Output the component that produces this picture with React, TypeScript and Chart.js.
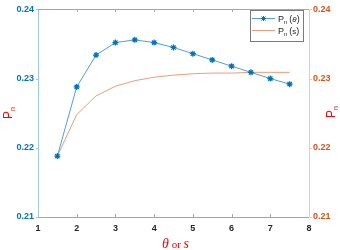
import React, { useEffect, useRef } from "react";
import { Chart, registerables } from "chart.js";

Chart.register(...registerables);

const W = 340;
const H = 250;

const xValues = [1.5, 2, 2.5, 3, 3.5, 4, 4.5, 5, 5.5, 6, 6.5, 7, 7.5];
const pnTheta = [0.2188, 0.2288, 0.2334, 0.2352, 0.2356, 0.2352, 0.2345, 0.2336, 0.2327, 0.2318, 0.2309, 0.23, 0.2292];
const pnS = [0.2188, 0.2248, 0.2275, 0.2289, 0.2297, 0.2302, 0.2305, 0.2307, 0.2308, 0.2308, 0.2309, 0.2309, 0.2309];
const xTicks = [1, 2, 3, 4, 5, 6, 7, 8];
const yTicks = [0.21, 0.22, 0.23, 0.24];

const BLUE = "#0072BD";
const BLUE_LINE = "#4FA0DA";
const BLUE_AXIS = "#9DC8EA";
const ORANGE = "#D95319";
const ORANGE_LINE = "#EE9C78";
const ORANGE_AXIS = "#F3C6B2";
const GRAY_AXIS = "#A6A6A6";
const FONT = "Arial, 'Liberation Sans', sans-serif";

function drawPn(ctx: CanvasRenderingContext2D, x: number, y: number, rotate: boolean, size: number, color: string) {
  ctx.save();
  ctx.translate(x, y);
  if (rotate) ctx.rotate(-Math.PI / 2);
  ctx.fillStyle = color;
  ctx.textBaseline = "alphabetic";
  ctx.textAlign = "left";
  ctx.font = `${size}px ${FONT}`;
  const pw = ctx.measureText("P").width;
  const sub = Math.round(size * 0.62);
  ctx.font = `${sub}px ${FONT}`;
  const nw = ctx.measureText("n").width;
  const total = pw + nw;
  ctx.font = `${size}px ${FONT}`;
  ctx.fillText("P", -total / 2, size * 0.35);
  ctx.font = `${sub}px ${FONT}`;
  ctx.fillText("n", -total / 2 + pw, size * 0.35 + sub * 0.35);
  ctx.restore();
}

const decorPlugin = {
  id: "decor",
  afterDatasetsDraw(chart: any) {
    const ctx: CanvasRenderingContext2D = chart.ctx;
    const { left, right, top, bottom } = chart.chartArea;
    const xs = chart.scales.x;
    const yl = chart.scales.y;
    const yr = chart.scales.y1;
    ctx.save();
    ctx.lineWidth = 1;
    // top & bottom
    ctx.strokeStyle = GRAY_AXIS;
    ctx.beginPath();
    ctx.moveTo(left, Math.round(top) + 0.5);
    ctx.lineTo(right, Math.round(top) + 0.5);
    ctx.moveTo(left, Math.round(bottom) + 0.5);
    ctx.lineTo(right, Math.round(bottom) + 0.5);
    for (const v of xTicks) {
      const px = Math.round(xs.getPixelForValue(v)) + 0.5;
      if (v === xTicks[0] || v === xTicks[xTicks.length - 1]) continue;
      ctx.moveTo(px, Math.round(bottom));
      ctx.lineTo(px, Math.round(bottom) - 3);
      ctx.moveTo(px, Math.round(top));
      ctx.lineTo(px, Math.round(top) + 3);
    }
    ctx.stroke();
    // left axis
    ctx.strokeStyle = BLUE_AXIS;
    ctx.beginPath();
    ctx.moveTo(Math.round(left) + 0.5, top);
    ctx.lineTo(Math.round(left) + 0.5, bottom + 0.5);
    for (const v of yTicks) {
      const py = Math.round(yl.getPixelForValue(v)) + 0.5;
      ctx.moveTo(Math.round(left) - 2, py);
      ctx.lineTo(Math.round(left), py);
    }
    ctx.stroke();
    // right axis
    ctx.strokeStyle = ORANGE_AXIS;
    ctx.beginPath();
    ctx.moveTo(Math.round(right) + 0.5, top);
    ctx.lineTo(Math.round(right) + 0.5, bottom + 0.5);
    for (const v of yTicks) {
      const py = Math.round(yr.getPixelForValue(v)) + 0.5;
      ctx.moveTo(Math.round(right) + 1, py);
      ctx.lineTo(Math.round(right) + 3, py);
    }
    ctx.stroke();

    // axis titles
    drawPn(ctx, 8, 113, true, 12, "#FF0000");
    drawPn(ctx, 331, 112, true, 12, "#FF0000");

    // x title
    ctx.fillStyle = "#FF0000";
    ctx.textBaseline = "alphabetic";
    const parts: [string, string][] = [
      ["θ", `italic 14px 'Liberation Serif', 'DejaVu Serif', serif`],
      [" or ", `11px 'Liberation Serif', 'DejaVu Serif', serif`],
      ["s", `italic 14px 'Liberation Serif', 'DejaVu Serif', serif`],
    ];
    let tw = 0;
    for (const [t, f] of parts) {
      ctx.font = f;
      tw += ctx.measureText(t).width;
    }
    let cx = (left + right) / 2 - tw / 2 + 2;
    for (const [t, f] of parts) {
      ctx.font = f;
      ctx.textAlign = "left";
      ctx.fillText(t, cx, 248);
      cx += ctx.measureText(t).width;
    }

    // legend
    const lx = 250, ly = 10, lw = 53, lh = 31;
    ctx.fillStyle = "#FFFFFF";
    ctx.fillRect(lx, ly, lw, lh);
    ctx.strokeStyle = "#7A7A7A";
    ctx.strokeRect(lx + 0.5, ly + 0.5, lw, lh);
    const rows = [
      { y: 18.5, color: BLUE_LINE, marker: true, arg: "θ", italic: true },
      { y: 30.5, color: ORANGE_LINE, marker: false, arg: "s", italic: false },
    ];
    for (const r of rows) {
      ctx.strokeStyle = r.color;
      ctx.beginPath();
      ctx.moveTo(252, r.y);
      ctx.lineTo(275, r.y);
      ctx.stroke();
      if (r.marker) {
        ctx.strokeStyle = BLUE;
        ctx.beginPath();
        const mx = 263.5, my = r.y, s = 2.5;
        ctx.moveTo(mx - s, my); ctx.lineTo(mx + s, my);
        ctx.moveTo(mx, my - s); ctx.lineTo(mx, my + s);
        ctx.moveTo(mx - 2, my - 2); ctx.lineTo(mx + 2, my + 2);
        ctx.moveTo(mx - 2, my + 2); ctx.lineTo(mx + 2, my - 2);
        ctx.stroke();
      }
      ctx.fillStyle = "#262626";
      ctx.textAlign = "left";
      let tx = 278;
      const base = r.y + 3;
      ctx.font = `9px ${FONT}`;
      ctx.fillText("P", tx, base);
      tx += ctx.measureText("P").width;
      ctx.font = `6px ${FONT}`;
      ctx.fillText("n", tx, base + 2);
      tx += ctx.measureText("n").width + 2;
      ctx.font = `9px ${FONT}`;
      ctx.fillText("(", tx, base);
      tx += ctx.measureText("(").width;
      ctx.font = r.italic ? `italic 8px ${FONT}` : `8px ${FONT}`;
      ctx.fillText(r.arg, tx, base);
      tx += ctx.measureText(r.arg).width;
      ctx.font = `9px ${FONT}`;
      ctx.fillText(")", tx, base);
    }
    ctx.restore();
  },
};

export default function App() {
  const ref = useRef<HTMLCanvasElement>(null);
  useEffect(() => {
    document.body.style.margin = "0";
    const canvas = ref.current!;
    const chart = new Chart(canvas, {
      type: "line",
      data: {
        datasets: [
          {
            label: "Pn (θ)",
            data: xValues.map((x, i) => ({ x, y: pnTheta[i] })),
            borderColor: BLUE_LINE,
            borderWidth: 1,
            pointStyle: "star",
            pointRadius: 3,
            pointBorderColor: BLUE,
            pointBackgroundColor: BLUE,
            pointBorderWidth: 1.2,
            yAxisID: "y",
            tension: 0,
          },
          {
            label: "Pn (s)",
            data: xValues.map((x, i) => ({ x, y: pnS[i] })),
            borderColor: ORANGE_LINE,
            borderWidth: 1,
            pointRadius: 0,
            yAxisID: "y1",
            tension: 0,
          },
        ],
      },
      options: {
        responsive: false,
        animation: false,
        devicePixelRatio: 1,
        layout: { padding: { top: 4, left: 0, right: 0, bottom: 0 } },
        plugins: { legend: { display: false }, tooltip: { enabled: false } },
        scales: {
          x: {
            type: "linear",
            min: 1,
            max: 8,
            grid: { display: false, drawTicks: false },
            border: { display: false },
            afterBuildTicks: (s: any) => {
              s.ticks = xTicks.map((v) => ({ value: v }));
            },
            ticks: {
              color: "#262626",
              font: { family: FONT, size: 9, weight: "bold" },
              padding: 6,
              maxRotation: 0,
              autoSkip: false,
            },
            afterFit: (s: any) => {
              s.height = 33;
            },
          },
          y: {
            position: "left",
            min: 0.21,
            max: 0.24,
            grid: { display: false, drawTicks: false },
            border: { display: false },
            afterBuildTicks: (s: any) => {
              s.ticks = yTicks.map((v) => ({ value: v }));
            },
            ticks: {
              color: BLUE,
              font: { family: FONT, size: 9, weight: "bold" },
              padding: 4,
              callback: (v: any) => Number(v).toFixed(2),
            },
            afterFit: (s: any) => {
              s.width = 38;
            },
          },
          y1: {
            position: "right",
            min: 0.21,
            max: 0.24,
            grid: { display: false, drawTicks: false },
            border: { display: false },
            afterBuildTicks: (s: any) => {
              s.ticks = yTicks.map((v) => ({ value: v }));
            },
            ticks: {
              color: ORANGE,
              font: { family: FONT, size: 9, weight: "bold" },
              padding: 4,
              callback: (v: any) => Number(v).toFixed(2),
            },
            afterFit: (s: any) => {
              s.width = 31;
            },
          },
        },
      },
      plugins: [decorPlugin],
    });
    return () => chart.destroy();
  }, []);
  return (
    <div style={{ position: "absolute", left: 0, top: 0, width: W, height: H, background: "#fff" }}>
      <canvas ref={ref} width={W} height={H} style={{ display: "block", width: W, height: H }} />
    </div>
  );
}
